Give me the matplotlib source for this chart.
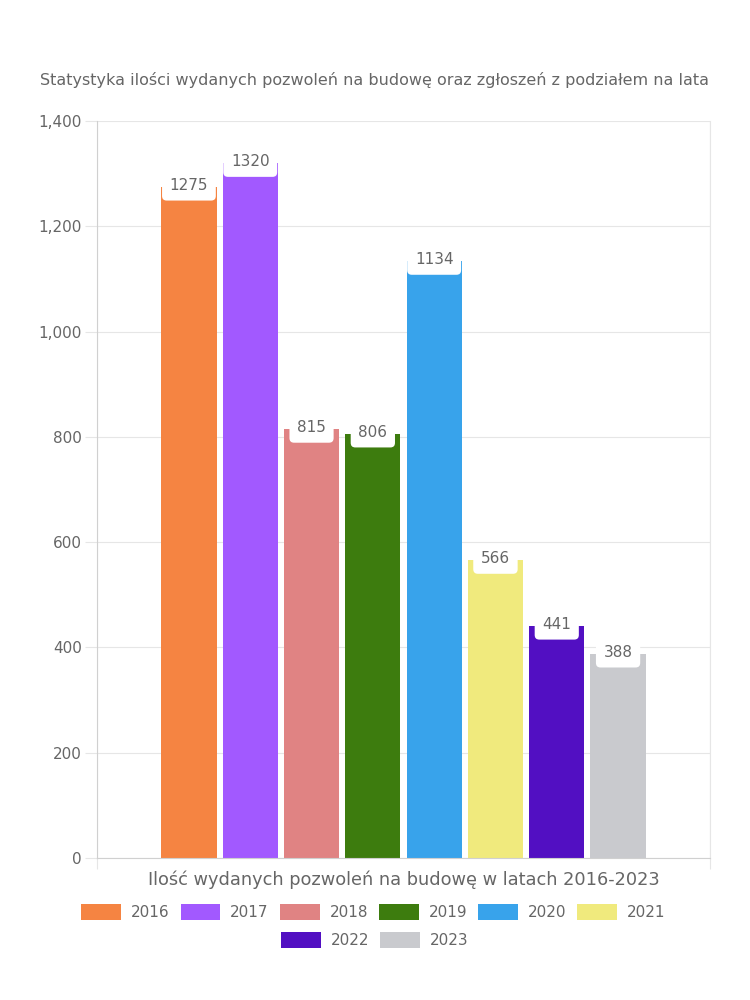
import matplotlib.pyplot as plt
from matplotlib.patches import Patch

# data
years = ["2016", "2017", "2018", "2019", "2020", "2021", "2022", "2023"]
permits = [1275, 1320, 815, 806, 1134, 566, 441, 388]
colors = ["#F58442", "#A259FF", "#E08383", "#3D7C0E",
          "#38A3EB", "#F0EA7D", "#520FC2", "#C9CACE"]
y_ticks = [0, 200, 400, 600, 800, 1000, 1200, 1400]

title = "Statystyka ilości wydanych pozwoleń na budowę oraz zgłoszeń z podziałem na lata"
category = "Ilość wydanych pozwoleń na budowę w latach 2016-2023"

plt.rcParams["font.family"] = ["DejaVu Sans"]
TXT = "#666666"
GRID = "#e6e6e6"

fig = plt.figure(figsize=(7.5, 10), dpi=100)
ax = fig.add_axes([0.1293, 0.142, 0.8174, 0.737])

# one category, eight datasets: category 80% of width, bars 90% of slot
n = len(years)
slot = 0.8 / n
for i, (yr, v, c) in enumerate(zip(years, permits, colors)):
    x = 0.1 + (i + 0.5) * slot
    ax.bar(x, v, width=slot * 0.9, color=c, zorder=2)
    ax.annotate(str(v), xy=(x, v), xytext=(0, 1), textcoords="offset points",
                ha="center", va="center", fontsize=11, color=TXT, zorder=4,
                bbox=dict(boxstyle="round,pad=0.5,rounding_size=0.3",
                          fc="white", ec="none"))

ax.set_xlim(0, 1)
ax.set_ylim(0, 1400)
ax.set_yticks(y_ticks)
ax.set_yticklabels([f"{t:,}" for t in y_ticks])
ax.set_xticks([0, 1])
ax.set_xticklabels(["", ""])
ax.tick_params(axis="y", length=9, color=GRID, labelsize=11, labelcolor=TXT, pad=2)
ax.tick_params(axis="x", length=8, color=GRID)
ax.grid(axis="y", color=GRID, lw=0.8, zorder=0)
ax.grid(axis="x", color=GRID, lw=0.8, zorder=0)
ax.spines["top"].set_visible(False)
ax.spines["right"].set_color(GRID)
ax.spines["left"].set_color("#d0d0d0")
ax.spines["bottom"].set_color("#d0d0d0")

fig.text(0.5, 0.92, title, ha="center", va="center", fontsize=11.5, color=TXT)
fig.text(0.539, 0.12, category, ha="center", va="center", fontsize=12.8, color=TXT)

handles = [Patch(facecolor=c, edgecolor="none", label=y) for y, c in zip(years, colors)]
common = dict(frameon=False, fontsize=11, labelcolor=TXT, handlelength=2.6,
              handleheight=1.2, handletextpad=0.65, columnspacing=0.72,
              borderpad=0, borderaxespad=0)
fig.legend(handles=handles[:6], loc="center", bbox_to_anchor=(0.498, 0.088),
           ncol=6, **common)
fig.legend(handles=handles[6:], loc="center", bbox_to_anchor=(0.5, 0.06),
           ncol=2, **common)

fig.savefig("out.png", dpi=100)
